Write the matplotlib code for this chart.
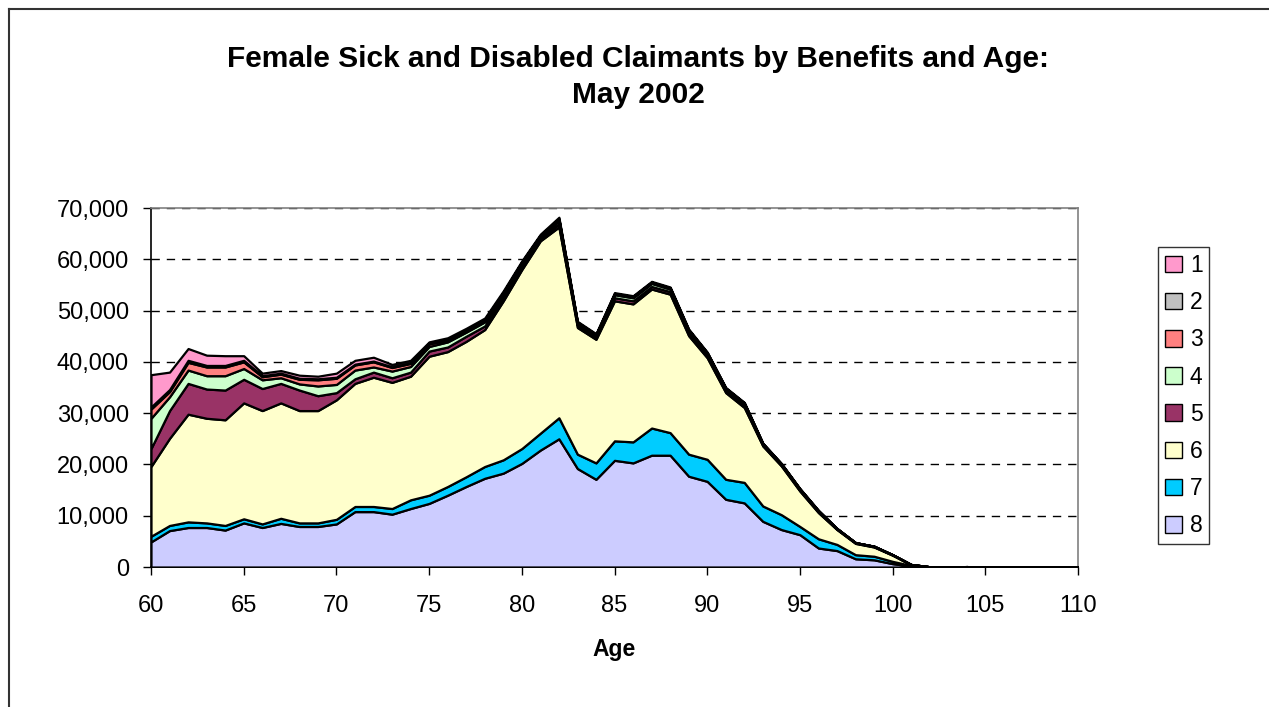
import numpy as np
import matplotlib
matplotlib.use('Agg')
import matplotlib.pyplot as plt
from matplotlib.patches import Patch
from matplotlib.lines import Line2D
from matplotlib.ticker import FuncFormatter, MultipleLocator

plt.rcParams['font.family'] = ['Liberation Sans', 'DejaVu Sans']

# Ages 60..110
ages = list(range(60, 111))

# Claimants per benefit group
s8 = [4900, 7100, 7700, 7700, 7200, 8600, 7700, 8500, 7900, 7900,
      8400, 10800, 10800, 10300, 11400, 12400, 14000, 15700, 17300, 18300,
      20200, 22800, 25000, 19200, 17100, 20800, 20300, 21800, 21800, 17700,
      16700, 13200, 12500, 8900, 7300, 6300, 3700, 3200, 1600, 1400,
      650, 200, 0, 0, 0, 0, 0, 0, 0, 0, 0]
s7 = [1100, 1000, 1100, 900, 900, 800, 700, 1000, 700, 700,
      900, 1000, 1000, 1100, 1700, 1600, 1700, 1900, 2300, 2600,
      2900, 3300, 4100, 2800, 3200, 3800, 4100, 5300, 4400, 4300,
      4300, 3900, 4000, 3000, 2900, 1600, 1800, 1200, 800, 700,
      450, 100, 0, 0, 0, 0, 0, 0, 0, 0, 0]
s6 = [13600, 17000, 21000, 20400, 20600, 22600, 22100, 22500, 21900, 21900,
      23300, 24000, 25200, 24600, 24100, 27100, 26300, 26400, 26700, 31000,
      34900, 37500, 37200, 24700, 24100, 27300, 26900, 27100, 27000, 23100,
      19800, 16900, 14600, 11700, 9500, 6900, 5100, 2900, 2200, 1800,
      1200, 150, 50, 20, 80, 0, 0, 0, 0, 0, 0]
s5 = [3500, 5400, 6000, 5700, 5800, 4600, 4300, 3800, 4000, 2900,
      1400, 900, 1000, 900, 800, 1000, 900, 1000, 700, 600,
      700, 400, 600, 500, 400, 600, 600, 500, 500, 500,
      400, 400, 400, 200, 200, 200, 200, 100, 100, 100,
      50, 20, 0, 0, 0, 0, 0, 0, 0, 0, 0]
s4 = [5900, 2700, 2600, 2600, 2800, 2100, 1700, 1100, 1200, 1900,
      1600, 1700, 1000, 1300, 1100, 900, 1000, 800, 800, 600,
      500, 400, 600, 300, 300, 600, 600, 600, 500, 400,
      400, 300, 300, 200, 150, 150, 100, 100, 50, 50,
      50, 20, 0, 0, 0, 0, 0, 0, 0, 0, 0]
s3 = [1800, 1000, 1500, 1700, 1700, 1300, 600, 700, 900, 1200,
      1200, 1000, 1000, 700, 600, 500, 400, 300, 300, 300,
      200, 200, 300, 150, 150, 150, 150, 150, 150, 150,
      100, 100, 100, 50, 50, 50, 50, 0, 0, 0,
      0, 0, 0, 0, 0, 0, 0, 0, 0, 0, 0]
s2 = [400, 400, 400, 300, 300, 300, 200, 200, 200, 200,
      200, 150, 150, 150, 150, 150, 150, 150, 150, 150,
      100, 100, 100, 100, 100, 100, 100, 100, 100, 100,
      100, 100, 100, 50, 50, 50, 50, 0, 0, 0,
      0, 0, 0, 0, 0, 0, 0, 0, 0, 0, 0]
s1 = [6300, 3400, 2300, 2000, 1900, 900, 500, 500, 600, 500,
      800, 750, 750, 450, 450, 250, 250, 300, 300, 300,
      200, 200, 300, 150, 150, 150, 150, 150, 150, 150,
      100, 100, 100, 50, 50, 50, 50, 0, 0, 0,
      0, 0, 0, 0, 0, 0, 0, 0, 0, 0, 0]

labels = ['1', '2', '3', '4', '5', '6', '7', '8']
colors = ['#FF99CC', '#C0C0C0', '#FF8080', '#CCFFCC',
          '#993366', '#FFFFCC', '#00CCFF', '#CCCCFF']

fig = plt.figure(figsize=(12.69, 7.07), dpi=100)
ax = fig.add_axes([151 / 1269, 1 - 567 / 707, 927 / 1269, 359 / 707])

# stack from bottom (8) to top (1)
stack = [s8, s7, s6, s5, s4, s3, s2, s1]
ax.stackplot(ages, stack, colors=colors[::-1],
             edgecolor='black', linewidth=1.6, zorder=3)

ax.set_xlim(60, 110)
ax.set_ylim(0, 70000)
ax.xaxis.set_major_locator(MultipleLocator(5))
ax.yaxis.set_major_locator(MultipleLocator(10000))
ax.yaxis.set_major_formatter(FuncFormatter(lambda v, p: f'{int(v):,}'))
ax.tick_params(axis='both', direction='out', length=6, width=1,
               labelsize=17, color='black')
ax.tick_params(axis='x', pad=14)
ax.tick_params(axis='y', pad=10)

ax.yaxis.grid(True, linestyle=(0, (6, 5)), color='black', linewidth=1, zorder=1)
ax.set_axisbelow(True)

for side in ['top', 'right']:
    ax.spines[side].set_color('#808080')
    ax.spines[side].set_linewidth(1.2)
for side in ['left', 'bottom']:
    ax.spines[side].set_color('black')
    ax.spines[side].set_linewidth(1.2)

ax.set_xlabel('Age', fontsize=16.5, fontweight='bold', labelpad=15)

fig.text(0.503, 1 - 59 / 707, 'Female Sick and Disabled Claimants by Benefits and Age:',
         ha='center', va='center', fontsize=21.5, fontweight='bold')
fig.text(0.503, 1 - 95 / 707, 'May 2002',
         ha='center', va='center', fontsize=21.5, fontweight='bold')

handles = [Patch(facecolor=c, edgecolor='black', linewidth=1) for c in colors]
leg = fig.legend(handles, labels, loc='upper left',
                 bbox_to_anchor=(1158 / 1269, 1 - 247 / 707),
                 fontsize=16.5, frameon=True, fancybox=False,
                 handlelength=0.74, handleheight=0.74, handletextpad=0.35,
                 labelspacing=0.62, borderpad=0.3, borderaxespad=0)
leg.get_frame().set_edgecolor('black')
leg.get_frame().set_linewidth(1)

# outer chart border (clipped by the image edge)
x0 = 8.5 / 1269
y0 = 1 - 8.5 / 707
fig.add_artist(Line2D([x0, x0], [0, y0], color='#333333', linewidth=1.5))
fig.add_artist(Line2D([x0, 1], [y0, y0], color='#333333', linewidth=1.5))

fig.savefig('out.png', dpi=100)
